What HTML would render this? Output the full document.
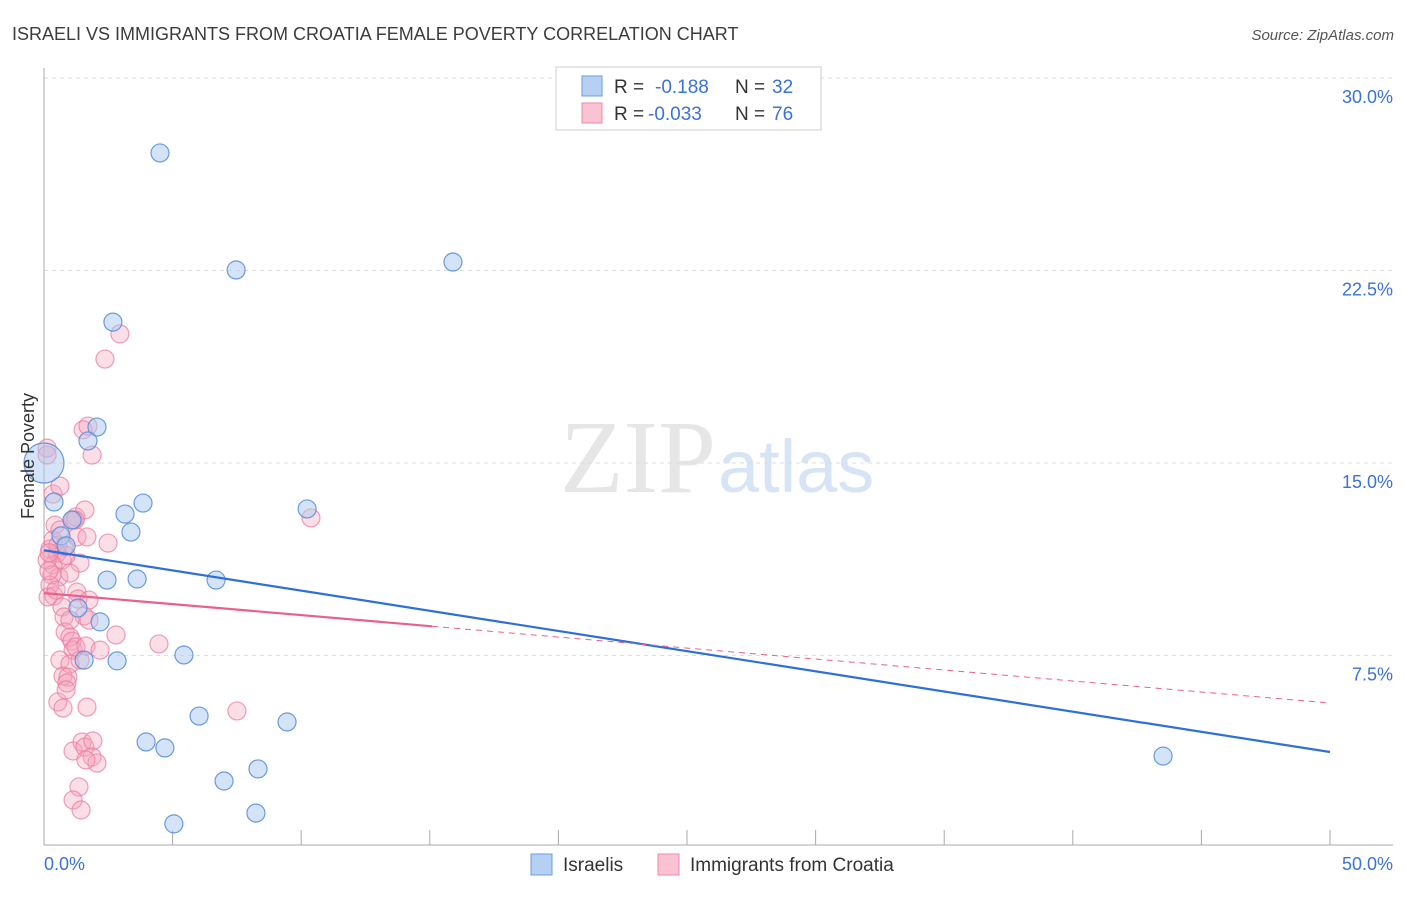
<!DOCTYPE html>
<html><head><meta charset="utf-8"><style>
body{margin:0;background:#fff;font-family:"Liberation Sans",sans-serif;}
</style></head><body>
<svg id="chart" width="1406" height="892" xmlns="http://www.w3.org/2000/svg" font-family="Liberation Sans, sans-serif">
<text x="12" y="40" font-size="18" fill="#3c3c3c">ISRAELI VS IMMIGRANTS FROM CROATIA FEMALE POVERTY CORRELATION CHART</text>
<text x="1394" y="40" font-size="15" fill="#555" text-anchor="end" font-style="italic">Source: ZipAtlas.com</text>
<text x="716" y="492" font-size="104" fill="#e6e6e6" text-anchor="end" font-family="Liberation Serif, serif">ZIP</text>
<text x="718" y="492" font-size="74" fill="#d6e4f5">atlas</text>
<g id="grid"></g>
<g id="axes"></g>
<g id="marks"></g>
<text transform="translate(34,456) rotate(-90)" font-size="18" fill="#333" text-anchor="middle">Female Poverty</text>
<g>
<rect x="556" y="67" width="265" height="63" fill="#fff" stroke="#ccc"/>
<rect x="582" y="76" width="20" height="20" fill="#b6d0f3" stroke="#6a9be0"/>
<rect x="582" y="103" width="20" height="20" fill="#f9c3d3" stroke="#ee8aa8"/>
<text x="614" y="93" font-size="19" fill="#333">R =</text>
<text x="655" y="93" font-size="19" fill="#3a72d8">-0.188</text>
<text x="735" y="93" font-size="19" fill="#333">N =</text>
<text x="772" y="93" font-size="19" fill="#3a72d8">32</text>
<text x="614" y="120" font-size="19" fill="#333">R =</text>
<text x="648" y="120" font-size="19" fill="#3a72d8">-0.033</text>
<text x="735" y="120" font-size="19" fill="#333">N =</text>
<text x="772" y="120" font-size="19" fill="#3a72d8">76</text>
</g>
<g>
<rect x="531" y="854" width="21" height="21" fill="#b6d0f3" stroke="#6a9be0"/>
<text x="563" y="871" font-size="19" fill="#333">Israelis</text>
<rect x="658" y="854" width="21" height="21" fill="#f9c3d3" stroke="#ee8aa8"/>
<text x="690" y="871" font-size="19" fill="#333">Immigrants from Croatia</text>
</g>
</svg>
<script>
const yTicks=[7.5,15,22.5,30];
const yTickLabels=["7.5%","15.0%","22.5%","30.0%"];
const xTickLabels=["0.0%","50.0%"];
const israeliX=[4.51,7.47,15.90,2.68,2.06,1.71,3.85,3.15,3.38,10.23,0.39,0.66,0.86,2.45,3.62,6.69,1.32,2.18,1.56,2.84,5.44,6.03,9.45,3.97,4.70,7.00,8.32,8.24,5.05,43.51,0,1.09];
const israeliY=[27.08,22.52,22.83,20.49,16.40,15.86,13.44,13.01,12.31,13.21,13.48,12.16,11.77,10.44,10.48,10.44,9.35,8.81,7.32,7.29,7.52,5.14,4.91,4.13,3.90,2.61,3.08,1.36,0.94,3.58,15.0,12.78];
const croatiaX=[2.95,2.37,1.52,1.71,1.87,0.12,0.12,0.35,0.62,1.13,1.24,1.59,1.28,1.67,2.49,0.43,0.78,0.23,0.51,0.70,0.35,0.12,0.58,0.31,1.40,1.01,0.23,0.39,0.16,1.28,1.32,0.70,1.56,0.78,0.82,1.01,1.09,2.80,1.13,1.24,1.63,4.47,0.62,1.01,0.74,0.93,0.89,0.54,0.74,1.67,7.50,10.38,1.13,1.48,1.59,1.90,1.87,2.06,1.36,1.13,1.44,1.63,1.21,0.35,0.54,0.86,0.19,0.47,1.01,1.40,0.86,0.62,1.75,2.18,1.75,0.2];
const croatiaY=[20.03,19.05,16.29,16.44,15.31,15.58,15.31,13.79,14.10,12.78,12.90,13.17,12.12,12.12,11.88,12.58,11.73,11.65,11.49,11.22,11.03,11.22,10.56,10.64,11.10,10.71,10.25,9.82,9.78,9.97,9.70,9.39,9.04,9.00,8.42,8.22,8.06,8.30,7.71,7.83,7.87,7.95,7.32,7.17,6.70,6.66,6.43,5.69,5.45,5.49,5.34,12.86,3.78,4.13,3.93,4.17,3.55,3.31,2.38,1.87,1.48,3.43,12.78,12.0,11.8,11.4,10.8,10.05,8.88,7.32,6.16,12.39,9.66,7.71,8.88,11.5];
const israeliTrend=[11.6,3.74];
const croatiaTrend=[9.93,5.65];
const croatiaSolidEnd=15.09;
const NS="http://www.w3.org/2000/svg";
const xS=v=>44+v/50*1286;
const yS=v=>848-v/30*770;
function mk(tag,attrs,parent){const e=document.createElementNS(NS,tag);for(const k in attrs)e.setAttribute(k,attrs[k]);parent.appendChild(e);return e;}
const grid=document.getElementById('grid'),axes=document.getElementById('axes'),marks=document.getElementById('marks');
yTicks.forEach((t,i)=>{
  const l=mk('line',{x1:44,x2:1393,y1:yS(t),y2:yS(t),stroke:'#ddd','stroke-dasharray':'4,4'},grid);
  
  
  const tx=mk('text',{x:1393,y:yS(t)+25,'font-size':18,fill:'#3a72d8','text-anchor':'end'},axes);
  tx.textContent=yTickLabels[i];
  
  
});
const ya=mk('line',{x1:44,x2:44,y1:68,y2:845,stroke:'#aaa'},axes);


const xa=mk('line',{x1:44,x2:1393,y1:845,y2:845,stroke:'#aaa'},axes);


for(let i=0;i<=10;i++){
  const t=mk('line',{x1:xS(i*5),x2:xS(i*5),y1:830,y2:845,stroke:'#aaa'},axes);
  
  
}
[[0,'start',44],[50,'end',1393]].forEach((d,i)=>{
  const tx=mk('text',{x:d[2],y:870,'font-size':18,fill:'#3a72d8','text-anchor':d[1]},axes);
  tx.textContent=xTickLabels[i];
  
  
});
croatiaX.forEach((x,i)=>{
  const c=mk('circle',{cx:xS(x),cy:yS(croatiaY[i]),r:9,fill:'rgba(245,160,185,0.35)',stroke:'rgba(235,125,160,0.75)','stroke-width':1.2},marks);
  
  
});
israeliX.forEach((x,i)=>{
  const c=mk('circle',{cx:xS(x),cy:yS(israeliY[i]),r:(x===0?20:9),fill:'rgba(170,200,240,0.5)',stroke:'rgba(80,140,220,0.85)','stroke-width':1.2},marks);
  
  
});
const l1=mk('line',{x1:xS(0),y1:yS(israeliTrend[0]),x2:xS(50),y2:yS(israeliTrend[1]),stroke:'#2e6fd8','stroke-width':2.2},marks);


const cy=x=>croatiaTrend[0]+(croatiaTrend[1]-croatiaTrend[0])*x/50;
const l2=mk('line',{x1:xS(0),y1:yS(cy(0)),x2:xS(croatiaSolidEnd),y2:yS(cy(croatiaSolidEnd)),stroke:'#e8608c','stroke-width':2.2},marks);


const l3=mk('line',{x1:xS(croatiaSolidEnd),y1:yS(cy(croatiaSolidEnd)),x2:xS(50),y2:yS(cy(50)),stroke:'#e8608c','stroke-width':1,'stroke-dasharray':'6,5'},marks);


</script>
</body></html>
